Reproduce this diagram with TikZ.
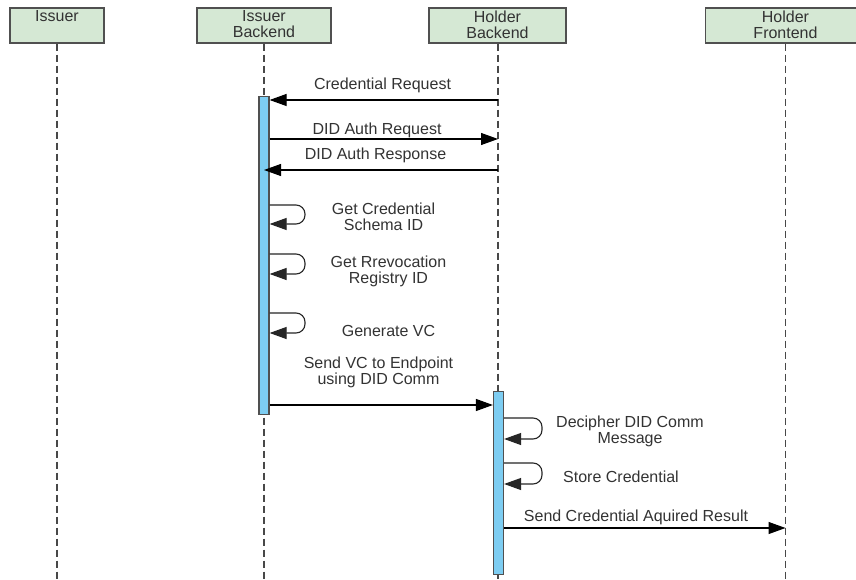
\documentclass[tikz,border=0pt]{standalone}
\usepackage{fontspec}
\setmainfont{Liberation Sans}
\usetikzlibrary{arrows.meta}
\definecolor{boxfill}{HTML}{D5E8D4}
\definecolor{boxline}{HTML}{505050}
\definecolor{barfill}{HTML}{7DCDF2}
\definecolor{txt}{HTML}{333333}
\tikzset{
  actor/.style={draw=boxline, fill=boxfill, line width=1.3pt, minimum height=35pt,
    inner sep=0pt},
  actortext/.style={align=center, text=txt, inner sep=0pt, anchor=north,
    font=\fontsize{16}{16}\selectfont},
  lifeline/.style={draw=boxline!90!black, line width=1.3pt, dash pattern=on 7pt off 4pt},
  actbar/.style={draw=boxline, fill=barfill, line width=1.2pt, minimum width=10pt, inner sep=0pt, anchor=north},
  msg/.style={draw=black, line width=1.1pt, -{Triangle[length=17pt,width=12pt]}},
  selfmsg/.style={msg, draw=black!85, rounded corners=9pt},
  lbl/.style={text=txt, align=center, inner sep=0pt, font=\fontsize{16}{16}\selectfont}
}
\begin{document}
\begin{tikzpicture}[x=1pt, y=-1pt]
\clip (0,0) rectangle (856,580);
\fill[white] (0,0) rectangle (856,580);

% participants
\node[actor, minimum width=94pt]  (iss) at (57,25.5)    {};
\node[actor, minimum width=134pt] (ib)  at (264,25.5)   {};
\node[actor, minimum width=137pt] (hb)  at (497.5,25.5) {};
\node[actor, minimum width=160pt] (hf)  at (785.5,25.5) {};
\node[actortext] (issT) at (57,10.5)    {Issuer};
\node[actortext] (ibT)  at (264,10.5)   {Issuer\\Backend};
\node[actortext] (hbT)  at (497.5,10.5) {Holder\\Backend};
\node[actortext] (hfT)  at (785.5,10.5) {Holder\\Frontend};

% lifeline ends
\coordinate (issE) at (57,582);
\coordinate (ibE)  at (264,582);
\coordinate (hbE)  at (498,582);
\coordinate (hfE)  at (785.5,582);
\draw[lifeline] (iss.south) -- (issE);
\draw[lifeline] (ib.south)  -- (ibE);
\draw[lifeline] (hb.south -| hbE) -- (hbE);
\draw[lifeline] (hf.south)  -- (hfE);

% activation bars
\node[actbar, minimum height=318pt] (ibact) at (264,96) {};
\node[actbar, minimum height=183pt] (hbact) at (498.5,391) {};

% Issuer Backend <-> Holder Backend
\coordinate (crS) at (498,100);
\draw[msg] (crS) -- (ibact.east |- crS);
\node[lbl] (crL) at (382.5,85) {Credential Request};

\coordinate (darE) at (498,139);
\draw[msg] (ibact.east |- darE) -- (darE);
\node[lbl] (darL) at (377,130) {DID Auth Request};

\coordinate (dasS) at (498,170);
\draw[msg] (dasS) -- (ibact.center |- dasS);
\node[lbl] (dasL) at (375.5,155) {DID Auth Response};

% self calls on Issuer Backend
\draw[selfmsg] (ibact.east |- 0,205) -- (305,205) -- (305,224) -- (ibact.east |- 0,224);
\node[lbl] (s1L) at (383.5,217) {Get Credential\\Schema ID};

\draw[selfmsg] (ibact.east |- 0,254) -- (305,254) -- (305,274) -- (ibact.east |- 0,274);
\node[lbl] (s2L) at (388.5,271) {Get Rrevocation\\Registry ID};

\draw[selfmsg] (ibact.east |- 0,313) -- (305,313) -- (305,333) -- (ibact.east |- 0,333);
\node[lbl] (s3L) at (388.5,331) {Generate VC};

% delivery to Holder Backend
\draw[msg] (ibact.east |- 0,405) -- (hbact.west |- 0,405);
\node[lbl] (sendL) at (378.5,372) {Send VC to Endpoint\\using DID Comm};

% self calls on Holder Backend
\draw[selfmsg] (hbact.east |- 0,418) -- (542,418) -- (542,439) -- (hbact.east |- 0,439);
\node[lbl] (d1L) at (630,431.5) {Decipher DID Comm\\Message};

\draw[selfmsg] (hbact.east |- 0,463) -- (542,463) -- (542,484) -- (hbact.east |- 0,484);
\node[lbl] (d2L) at (621,477) {Store Credential};

% result to Holder Frontend
\draw[msg] (hbact.east |- 0,528) -- (hfE |- 0,528);
\node[lbl] (resL) at (636,517) {Send Credential Aquired Result};
\end{tikzpicture}
\end{document}
